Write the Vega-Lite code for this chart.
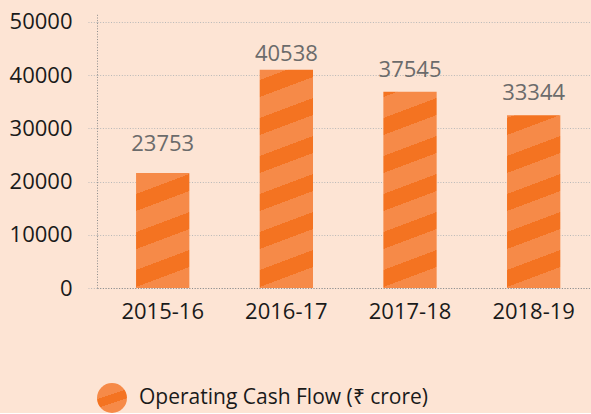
{
  "$schema": "https://vega.github.io/schema/vega-lite/v6.json",
  "width": 494,
  "height": 274,
  "padding": {"left": 0, "top": 10, "right": 0, "bottom": 0},
  "background": "#fde4d4",
  "config": {
    "view": {"stroke": null},
    "font": "Open Sans",
    "axis": {"labelFont": "Open Sans", "titleFont": "Open Sans"},
    "legend": {"labelFont": "Open Sans"}
  },
  "data": {
    "values": [
      {"year": "2015-16", "value": 21600, "label": 23753},
      {"year": "2016-17", "value": 41000, "label": 40538},
      {"year": "2017-18", "value": 36900, "label": 37545},
      {"year": "2018-19", "value": 32450, "label": 33344}
    ]
  },
  "encoding": {
    "x": {
      "field": "year",
      "type": "nominal",
      "sort": null,
      "title": null,
      "scale": {"paddingInner": 0.569, "paddingOuter": 0.282, "align": 0.56},
      "axis": {
        "labelAngle": 0,
        "ticks": false,
        "tickSize": 0,
        "labelPadding": 13,
        "labelFontSize": 22,
        "labelColor": "#1a1a1a",
        "domainColor": "#8c8c8c",
        "domainDash": [1, 1.7],
        "domainWidth": 1,
        "grid": false
      }
    },
    "y": {
      "field": "value",
      "type": "quantitative",
      "title": null,
      "scale": {"domain": [0, 51500], "nice": false, "zero": true},
      "axis": {
        "values": [0, 10000, 20000, 30000, 40000, 50000],
        "format": "d",
        "grid": true,
        "gridColor": "#b8b8b8",
        "gridDash": [1, 1.7],
        "tickColor": "#b8b8b8",
        "tickDash": [1, 1.7],
        "tickSize": 9,
        "labelPadding": 16,
        "labelFontSize": 22,
        "labelColor": "#1a1a1a",
        "domainColor": "#8c8c8c",
        "domainDash": [1, 1.7],
        "minExtent": 97,
        "maxExtent": 97
      }
    }
  },
  "layer": [
    {
      "transform": [{"filter": "datum.year === '2015-16'"}],
      "mark": {
        "type": "bar",
        "fill": {"gradient": "linear", "x1": 0, "y1": 0, "x2": 0.198, "y2": 1.14, "stops": [
          {"offset": 0, "color": "#f68a48"}, {"offset": 0.155, "color": "#f68a48"},
          {"offset": 0.155, "color": "#f47321"}, {"offset": 0.281, "color": "#f47321"},
          {"offset": 0.281, "color": "#f68a48"}, {"offset": 0.437, "color": "#f68a48"},
          {"offset": 0.437, "color": "#f47321"}, {"offset": 0.563, "color": "#f47321"},
          {"offset": 0.563, "color": "#f68a48"}, {"offset": 0.718, "color": "#f68a48"},
          {"offset": 0.718, "color": "#f47321"}, {"offset": 0.844, "color": "#f47321"},
          {"offset": 0.844, "color": "#f68a48"}, {"offset": 1, "color": "#f68a48"}
        ]}
      }
    },
    {
      "transform": [{"filter": "datum.year === '2016-17'"}],
      "mark": {
        "type": "bar",
        "fill": {"gradient": "linear", "x1": 0, "y1": 0, "x2": 0.0993, "y2": 1.0826, "stops": [
          {"offset": 0, "color": "#f68a48"}, {"offset": 0.0424, "color": "#f68a48"},
          {"offset": 0.0424, "color": "#f47321"}, {"offset": 0.1138, "color": "#f47321"},
          {"offset": 0.1138, "color": "#f68a48"}, {"offset": 0.2020, "color": "#f68a48"},
          {"offset": 0.2020, "color": "#f47321"}, {"offset": 0.2734, "color": "#f47321"},
          {"offset": 0.2734, "color": "#f68a48"}, {"offset": 0.3616, "color": "#f68a48"},
          {"offset": 0.3616, "color": "#f47321"}, {"offset": 0.4330, "color": "#f47321"},
          {"offset": 0.4330, "color": "#f68a48"}, {"offset": 0.5212, "color": "#f68a48"},
          {"offset": 0.5212, "color": "#f47321"}, {"offset": 0.5926, "color": "#f47321"},
          {"offset": 0.5926, "color": "#f68a48"}, {"offset": 0.6808, "color": "#f68a48"},
          {"offset": 0.6808, "color": "#f47321"}, {"offset": 0.7522, "color": "#f47321"},
          {"offset": 0.7522, "color": "#f68a48"}, {"offset": 0.8404, "color": "#f68a48"},
          {"offset": 0.8404, "color": "#f47321"}, {"offset": 0.9118, "color": "#f47321"},
          {"offset": 0.9118, "color": "#f68a48"}, {"offset": 1, "color": "#f68a48"}
        ]}
      }
    },
    {
      "transform": [{"filter": "datum.year === '2017-18'"}],
      "mark": {
        "type": "bar",
        "fill": {"gradient": "linear", "x1": 0, "y1": 0, "x2": 0.1111, "y2": 1.0906, "stops": [
          {"offset": 0, "color": "#f47321"}, {"offset": 0.0245, "color": "#f47321"},
          {"offset": 0.0245, "color": "#f68a48"}, {"offset": 0.1216, "color": "#f68a48"},
          {"offset": 0.1216, "color": "#f47321"}, {"offset": 0.2002, "color": "#f47321"},
          {"offset": 0.2002, "color": "#f68a48"}, {"offset": 0.2973, "color": "#f68a48"},
          {"offset": 0.2973, "color": "#f47321"}, {"offset": 0.3759, "color": "#f47321"},
          {"offset": 0.3759, "color": "#f68a48"}, {"offset": 0.4730, "color": "#f68a48"},
          {"offset": 0.4730, "color": "#f47321"}, {"offset": 0.5515, "color": "#f47321"},
          {"offset": 0.5515, "color": "#f68a48"}, {"offset": 0.6486, "color": "#f68a48"},
          {"offset": 0.6486, "color": "#f47321"}, {"offset": 0.7272, "color": "#f47321"},
          {"offset": 0.7272, "color": "#f68a48"}, {"offset": 0.8243, "color": "#f68a48"},
          {"offset": 0.8243, "color": "#f47321"}, {"offset": 0.9029, "color": "#f47321"},
          {"offset": 0.9029, "color": "#f68a48"}, {"offset": 1, "color": "#f68a48"}
        ]}
      }
    },
    {
      "transform": [{"filter": "datum.year === '2018-19'"}],
      "mark": {
        "type": "bar",
        "fill": {"gradient": "linear", "x1": 0, "y1": 0, "x2": 0.1276, "y2": 1.1011, "stops": [
          {"offset": 0, "color": "#f68a48"}, {"offset": 0.0135, "color": "#f68a48"},
          {"offset": 0.0135, "color": "#f47321"}, {"offset": 0.1018, "color": "#f47321"},
          {"offset": 0.1018, "color": "#f68a48"}, {"offset": 0.2108, "color": "#f68a48"},
          {"offset": 0.2108, "color": "#f47321"}, {"offset": 0.2991, "color": "#f47321"},
          {"offset": 0.2991, "color": "#f68a48"}, {"offset": 0.4081, "color": "#f68a48"},
          {"offset": 0.4081, "color": "#f47321"}, {"offset": 0.4964, "color": "#f47321"},
          {"offset": 0.4964, "color": "#f68a48"}, {"offset": 0.6054, "color": "#f68a48"},
          {"offset": 0.6054, "color": "#f47321"}, {"offset": 0.6937, "color": "#f47321"},
          {"offset": 0.6937, "color": "#f68a48"}, {"offset": 0.8027, "color": "#f68a48"},
          {"offset": 0.8027, "color": "#f47321"}, {"offset": 0.8910, "color": "#f47321"},
          {"offset": 0.8910, "color": "#f68a48"}, {"offset": 1, "color": "#f68a48"}
        ]}
      }
    },
    {
      "mark": {
        "type": "point",
        "filled": true,
        "size": 0,
        "fill": {"gradient": "linear", "x1": 0, "y1": 0, "x2": 0.4, "y2": 1.2, "stops": [
          {"offset": 0, "color": "#f68a48"}, {"offset": 0.4, "color": "#f68a48"},
          {"offset": 0.4, "color": "#f47321"}, {"offset": 0.63, "color": "#f47321"},
          {"offset": 0.63, "color": "#f68a48"}, {"offset": 1, "color": "#f68a48"}
        ]}
      },
      "encoding": {
        "shape": {
          "datum": "Operating Cash Flow (₹ crore)",
          "type": "nominal",
          "scale": {"range": ["circle"]},
          "legend": {
            "orient": "bottom",
            "title": null,
            "symbolType": "circle",
            "symbolSize": 900,
            "symbolStrokeWidth": 0,
            "symbolOpacity": 1,
            "labelFontSize": 21,
            "labelColor": "#1a1a1a",
            "labelOffset": 12,
            "labelLimit": 500,
            "offset": 61,
            "padding": 0
          }
        }
      }
    },
    {
      "mark": {
        "type": "text",
        "fontSize": 22,
        "font": "Open Sans",
        "color": "#6b6b6b",
        "baseline": "alphabetic",
        "dy": -11
      },
      "encoding": {
        "y": {"field": "label", "type": "quantitative"},
        "text": {"field": "label", "type": "quantitative", "format": "d"}
      }
    }
  ]
}
